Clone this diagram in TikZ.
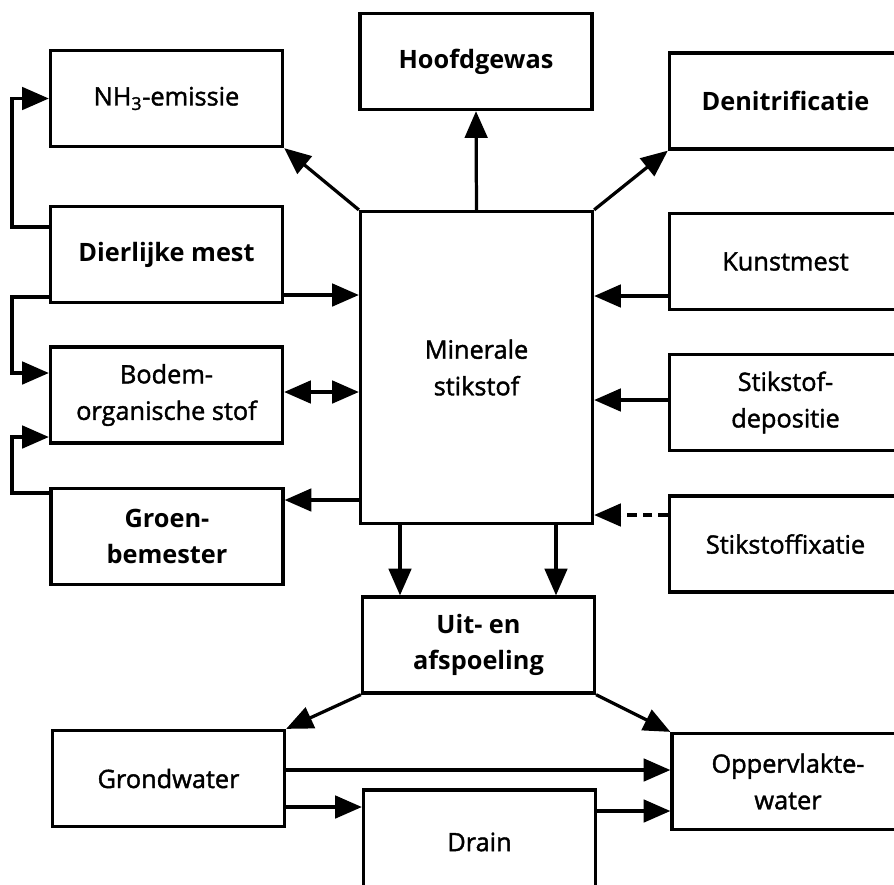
\documentclass[tikz,border=0pt]{standalone}
\usepackage{fontspec}
\setmainfont{Open Sans}
\newfontfamily\semifont{Open Sans}[FakeBold=1.6]
\usetikzlibrary{arrows.meta}

\begin{document}
\begin{tikzpicture}[x=0.025cm, y=-0.025cm,
box/.style = {draw, line width=2.3pt, minimum width=5.8cm, minimum height=2.4cm,
  align=center, font=\fontsize{18}{26}\selectfont\semifont},
boldbox/.style = {box, font=\fontsize{18}{26}\selectfont\bfseries},
flow/.style = {line width=2.3pt, -{Triangle[length=19pt, width=16pt]}}]
\useasboundingbox (0,0) rectangle (894,884);
\clip (0,0) rectangle (894,884);
\node[box] (nh3) at (166.5,98.5) {NH\textsubscript{3}-emissie};
\node[boldbox] (hoofd) at (476,61.5) {Hoofdgewas};
\node[boldbox] (denit) at (785.5,101) {Denitrificatie};
\node[boldbox] (dier) at (166.5,254.5) {Dierlijke mest};
\node[box] (bodem) at (166.5,395) {Bodem-\\organische stof};
\node[boldbox] (groen) at (167,536.5) {Groen-\\bemester};
\node[box, minimum height=7.8cm] (miner) at (476.5,367.5) {Minerale\\stikstof};
\node[box] (kunst) at (785.5,261.5) {Kunstmest};
\node[box] (depos) at (785.5,402.5) {Stikstof-\\depositie};
\node[box] (fix) at (785.5,544) {Stikstoffixatie};
\node[boldbox] (uit) at (478.5,645) {Uit- en\\afspoeling};
\node[box] (grond) at (168.5,778.5) {Grondwater};
\node[box] (opp) at (788,781.5) {Oppervlakte-\\water};
\node[box, minimum height=2.6cm] (drain) at (479.5,842) {Drain};

\draw[flow] (miner.north west) -- (nh3.south east);
\draw[flow] (miner.north) -- (hoofd.south);
\draw[flow] (miner.north east) -- (denit.south west);
\draw[flow] (dier.east |- 0,295) -- (miner.west |- 0,295);
\draw[flow] (dier.west |- 0,227) -- (12,227) |- (nh3.west);
\draw[flow] (dier.west |- 0,297) -- (12,297) |- (bodem.west |- 0,373);
\draw[flow] (groen.west |- 0,493) -- (12,493) |- (bodem.west |- 0,437);
\draw[flow, {Triangle[length=19pt, width=16pt]}-{Triangle[length=19pt, width=16pt]}]
  (bodem.east |- 0,392) -- (miner.west |- 0,392);
\draw[flow] (miner.west |- 0,500) -- (groen.east |- 0,500);
\draw[flow] (kunst.west |- 0,296) -- (miner.east |- 0,296);
\draw[flow] (depos.west |- 0,400) -- (miner.east |- 0,400);
\draw[flow, dash pattern=on 7pt off 4pt] (fix.west |- 0,515) -- (miner.east |- 0,515);
\draw[flow] (miner.south -| 400,0) -- (uit.north -| 400,0);
\draw[flow] (miner.south -| 556,0) -- (uit.north -| 556,0);
\draw[flow] (uit.south west) -- (grond.north east);
\draw[flow] (uit.south east) -- (opp.north west);
\draw[flow] (grond.east |- 0,770) -- (opp.west |- 0,770);
\draw[flow] (grond.east |- 0,807) -- (drain.west |- 0,807);
\draw[flow] (drain.east |- 0,811) -- (opp.west |- 0,811);
\end{tikzpicture}
\end{document}
